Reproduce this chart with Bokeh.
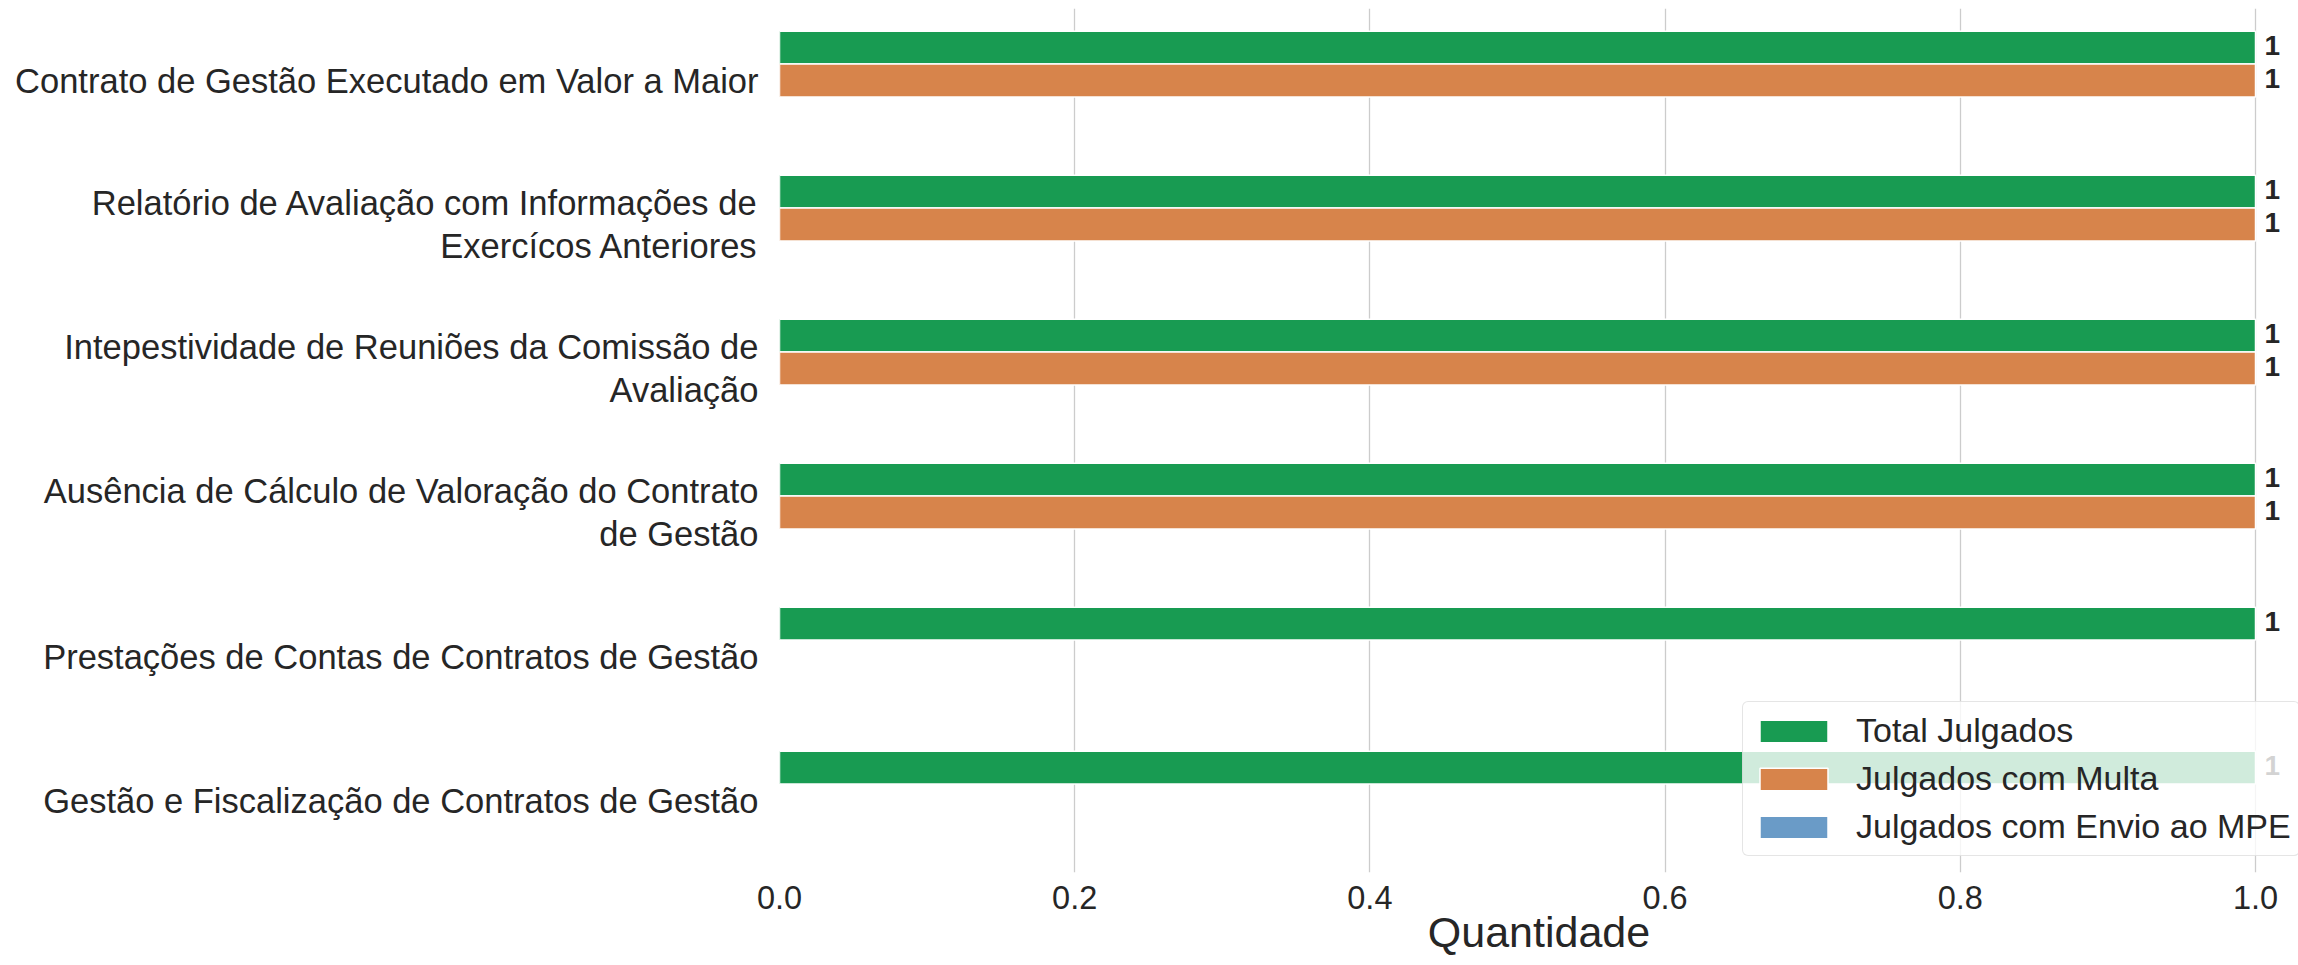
from bokeh.plotting import figure
from bokeh.models import FactorRange, Range1d, FixedTicker, ColumnDataSource, Legend, LegendItem, NumeralTickFormatter
from bokeh.transform import dodge
from bokeh.core.properties import value
from bokeh.embed import file_html
from bokeh.resources import INLINE

# ---- data ----
categories = [
    "Contrato de Gestão Executado em Valor a Maior",
    "Relatório de Avaliação com Informações de\nExercícos Anteriores",
    "Intepestividade de Reuniões da Comissão de\nAvaliação",
    "Ausência de Cálculo de Valoração do Contrato\nde Gestão",
    "Prestações de Contas de Contratos de Gestão",
    "Gestão e Fiscalização de Contratos de Gestão",
]
total_julgados = [1, 1, 1, 1, 1, 1]
julgados_multa = [1, 1, 1, 1, 0, 0]
julgados_mpe = [0, 0, 0, 0, 0, 0]
series_names = ["Total Julgados", "Julgados com Multa", "Julgados com Envio ao MPE"]
series_colors = ["#189b52", "#d7844b", "#6a9bc7"]
x_ticks = [0.0, 0.2, 0.4, 0.6, 0.8, 1.0]
x_label = "Quantidade"

FONT = "Liberation Sans"
TXT = "#262626"

BAR_H = 0.2285
offsets = [BAR_H, 0.0, -BAR_H]
series_values = [total_julgados, julgados_multa, julgados_mpe]

LEFT = 779
FRAME_W = 2298 - LEFT
FRAME_H = 864
y_range = FactorRange(factors=list(reversed(categories)), range_padding=0)
x_range = Range1d(0, FRAME_W / 1476)

p = figure(
    y_range=y_range, x_range=x_range,
    frame_width=FRAME_W, frame_height=FRAME_H,
    min_border_left=LEFT, min_border_right=0, min_border_top=8, min_border_bottom=0,
    output_backend="svg", toolbar_location=None,
    background_fill_color="white", border_fill_color="white",
)
p.outline_line_color = None

renderers = []
for name, vals, off, col in zip(series_names, series_values, offsets, series_colors):
    src = ColumnDataSource(dict(cat=categories, v=vals))
    r = p.hbar(y=dodge("cat", off, range=p.y_range), left=0, right="v", height=BAR_H,
               source=src, fill_color=col, line_color="white", line_width=1.5)
    renderers.append(r)
    lab_cats = [c for c, v in zip(categories, vals) if v > 0]
    lab_vals = [v for v in vals if v > 0]
    if lab_cats:
        lsrc = ColumnDataSource(dict(cat=lab_cats, v=lab_vals, t=[str(v) for v in lab_vals]))
        p.text(x="v", y=dodge("cat", off, range=p.y_range), text="t", source=lsrc,
               x_offset=9, y_offset=-2, text_font=value(FONT), text_font_size="28px",
               text_font_style="bold", text_color=TXT, text_baseline="middle", text_align="left")

# grid
p.ygrid.grid_line_color = None
p.xgrid.grid_line_color = "#cccccc"
p.xgrid.grid_line_width = 1.3
p.xgrid.ticker = FixedTicker(ticks=x_ticks)

# x axis
xa = p.xaxis[0]
xa.ticker = FixedTicker(ticks=x_ticks)
xa.formatter = NumeralTickFormatter(format="0.0")
xa.axis_line_color = None
xa.major_tick_line_color = None
xa.minor_tick_line_color = None
xa.major_tick_out = 0
xa.major_tick_in = 0
xa.major_label_standoff = 13
xa.major_label_text_font = FONT
xa.major_label_text_font_size = "32.5px"
xa.major_label_text_color = TXT
xa.axis_label = x_label
xa.axis_label_text_font = FONT
xa.axis_label_text_font_size = "43px"
xa.axis_label_text_font_style = "normal"
xa.axis_label_text_color = TXT
xa.axis_label_standoff = -4

# y axis
ya = p.yaxis[0]
ya.axis_line_color = None
ya.major_tick_line_color = None
ya.minor_tick_line_color = None
ya.major_tick_out = 0
ya.major_tick_in = 0
ya.major_label_standoff = 21
ya.major_label_text_font = FONT
ya.major_label_text_font_size = "34.5px"
ya.major_label_text_color = TXT
ya.major_label_text_line_height = 1.15

legend = Legend(
    items=[LegendItem(label=n, renderers=[r]) for n, r in zip(series_names, renderers)],
    location=(1742 - LEFT, 16),
    label_text_font=FONT, label_text_font_size="34px", label_text_color=TXT,
    glyph_width=85, glyph_height=28, label_standoff=20, label_height=41,
    spacing=7, padding=8, margin=0,
    border_line_color="#cccccc", border_line_width=1.5,
    background_fill_color="white", background_fill_alpha=0.8,
)
if "border_radius" in Legend.properties():
    legend.border_radius = 6
p.add_layout(legend)

open("out.html", "w").write(file_html(p, INLINE))
